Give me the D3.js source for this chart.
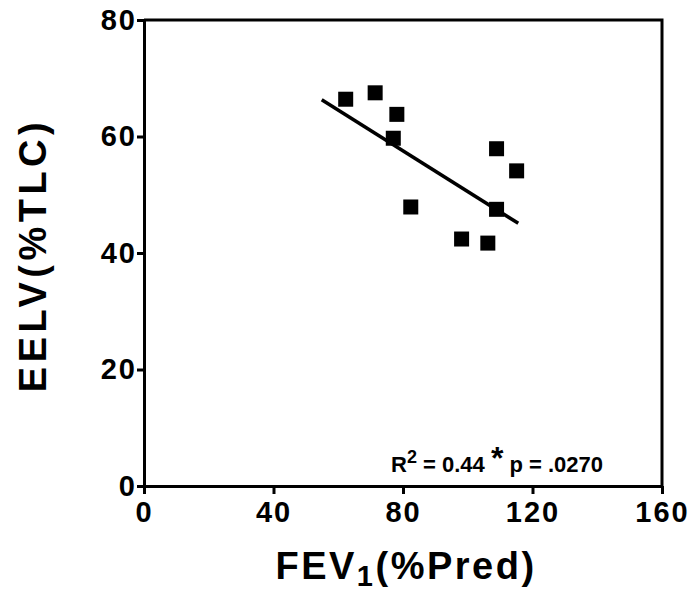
<!DOCTYPE html>
<html>
<head>
<meta charset="utf-8">
<script src="https://cdn.jsdelivr.net/npm/d3@7"></script>
<style>
  body { margin: 0; background: #fff; }
  text { font-family: "Liberation Sans", Arial, sans-serif; font-weight: bold; fill: #000; }
</style>
</head>
<body>
<svg width="691" height="592"></svg>
<script>
var width = 691;
var height = 592;

// data
var fev1 = [62.3, 71.4, 78.1, 77.0, 82.4, 98.1, 106.2, 108.9, 115.1, 108.9];
var eelv = [66.4, 67.5, 63.8, 59.7, 47.9, 42.4, 41.7, 57.9, 54.1, 47.5];
var fitX = [54.9, 115.6];
var fitY = [66.3, 45.1];
var xTicks = [0, 40, 80, 120, 160];
var yTicks = [0, 20, 40, 60, 80];

var margin = {left: 144, right: 29, top: 20, bottom: 106};

var x = d3.scaleLinear()
    .domain([0, 160])
    .range([margin.left, width - margin.right]);
var y = d3.scaleLinear()
    .domain([0, 80])
    .range([height - margin.bottom, margin.top]);

var svg = d3.select('svg');

// frame: top and right sides
svg.append('path')
    .attr('d', `M${x(0)},${y(80)}H${x(160)}V${y(0)}`)
    .attr('fill', 'none')
    .attr('stroke', '#000')
    .attr('stroke-width', 3);

// x axis
var xAxis = svg.append('g')
    .attr('transform', `translate(0, ${y(0)})`)
    .call(d3.axisBottom(x).tickValues(xTicks).tickSize(8).tickPadding(7).tickSizeOuter(0));
xAxis.select('.domain').attr('stroke-width', 3);
xAxis.selectAll('.tick line').attr('stroke-width', 3);
xAxis.selectAll('.tick text')
    .style('font-size', '29px')
    .style('font-weight', 'bold')
    .style('letter-spacing', '2px')
    .style('font-family', '"Liberation Sans", Arial, sans-serif');

// y axis
var yAxis = svg.append('g')
    .attr('transform', `translate(${x(0)}, 0)`)
    .call(d3.axisLeft(y).tickValues(yTicks).tickSize(7).tickPadding(0).tickSizeOuter(0));
yAxis.select('.domain').attr('stroke-width', 3);
yAxis.selectAll('.tick line').attr('stroke-width', 3);
yAxis.selectAll('.tick text')
    .style('font-size', '29px')
    .style('font-weight', 'bold')
    .style('letter-spacing', '2px')
    .style('font-family', '"Liberation Sans", Arial, sans-serif');

// regression line
var line = d3.line().x(d => x(d[0])).y(d => y(d[1]));
svg.append('path')
    .attr('d', line(d3.zip(fitX, fitY)))
    .attr('stroke', '#000')
    .attr('stroke-width', 3.5)
    .attr('fill', 'none');

// points
var size = 15;
svg.selectAll('.pt')
    .data(d3.zip(fev1, eelv))
    .enter()
    .append('rect')
    .classed('pt', true)
    .attr('x', d => x(d[0]) - size / 2)
    .attr('y', d => y(d[1]) - size / 2)
    .attr('width', size)
    .attr('height', size)
    .attr('fill', '#000');

// annotation
var note = svg.append('text')
    .attr('x', 391)
    .attr('y', 472)
    .style('font-size', '22px');
note.append('tspan').text('R');
note.append('tspan').attr('dy', -9).style('font-size', '18px').text('2');
note.append('tspan').attr('dy', 9).text(' = 0.44  ');
note.append('tspan').attr('dy', -3).style('font-size', '32px').text('*');
note.append('tspan').attr('dy', 3).text(' p = .0270');

// axis titles
var xt = svg.append('text')
    .attr('x', 406)
    .attr('y', 579)
    .attr('text-anchor', 'middle')
    .style('font-size', '38px')
    .style('letter-spacing', '2.5px');
xt.append('tspan').text('FEV');
xt.append('tspan').attr('dy', 7).style('font-size', '29px').text('1');
xt.append('tspan').attr('dy', -7).text('(%Pred)');

svg.append('text')
    .attr('transform', `translate(46, 255) rotate(-90)`)
    .attr('text-anchor', 'middle')
    .style('font-size', '38px')
    .style('letter-spacing', '4.5px')
    .text('EELV(%TLC)');
</script>
</body>
</html>
